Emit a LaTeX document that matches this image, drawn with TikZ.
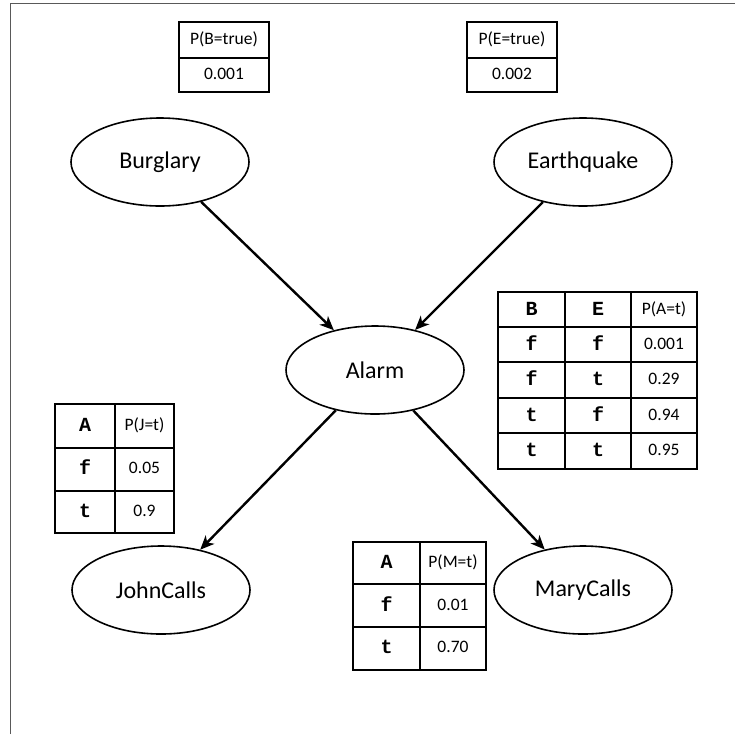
\documentclass[tikz,border=0pt]{standalone}
\usepackage{fontspec}
\setmainfont{Carlito}
\newfontfamily\cptmono{Liberation Mono}
\usetikzlibrary{shapes.geometric,arrows.meta}

\tikzset{
  var/.style={ellipse,draw,line width=1.6pt,minimum width=178pt,minimum height=88pt,
    inner sep=0pt,font=\fontsize{24}{28}\selectfont},
  dep/.style={-{Stealth[length=14pt,width=12pt,inset=4pt]},line width=2.4pt},
  cpt/.style={line width=1.6pt},
  prob/.style={inner sep=0pt,text height=12pt,text depth=3pt,font=\fontsize{17.5}{20}\selectfont},
  val/.style={inner sep=0pt,text height=11pt,text depth=0pt,font=\cptmono\bfseries\fontsize{20}{22}\selectfont},
}

\begin{document}
\begin{tikzpicture}[x=1pt,y=-1pt]
  \useasboundingbox (0,0) rectangle (735,734);
  \draw[line width=0.8pt,black!65] (10.5,734) -- (10.5,3.5) -- (735,3.5);

  % network
  \node[var] (burglary) at (160,162) {Burglary};
  \node[var] (earthquake) at (583,162) {Earthquake};
  \node[var] (alarm) at (375,370) {Alarm};
  \node[var] (john) at (161,590) {JohnCalls};
  \node[var] (mary) at (583,590) {MaryCalls};
  \draw[dep] (burglary) -- (alarm);
  \draw[dep] (earthquake) -- (alarm);
  \draw[dep] (alarm) -- (john);
  \draw[dep] (alarm) -- (mary);

  % priors
  \draw[cpt] (179,22) rectangle (269,92) (179,58) -- (269,58);
  \node[prob] (pb) at (224,40) {P(B=true)};
  \node[prob] (pbv) at (224,75) {0.001};
  \draw[cpt] (467,22) rectangle (557,92) (467,58) -- (557,58);
  \node[prob] (pe) at (512,40) {P(E=true)};
  \node[prob] (pev) at (512,75) {0.002};

  % alarm table
  \draw[cpt] (498,292) rectangle (697,469);
  \foreach \y in {327,362,398,433} \draw[cpt] (498,\y) -- (697,\y);
  \foreach \x in {565,631} \draw[cpt] (\x,292) -- (\x,469);
  \node[val] (ab) at (531.5,309.5) {B};
  \node[val] (ae) at (598,309.5) {E};
  \node[prob] (pa) at (664,309.5) {P(A=t)};
  \foreach \b/\e/\p [count=\i] in {f/f/0.001,f/t/0.29,t/f/0.94,t/t/0.95}{
    \node[val] (ab\i) at (531.5,309.5+35.4*\i) {\b};
    \node[val] (ae\i) at (598,309.5+35.4*\i) {\e};
    \node[prob] (pa\i) at (664,309.5+35.4*\i) {\p};
  }

  % john table
  \draw[cpt] (55,404) rectangle (174,533);
  \foreach \y in {448,491} \draw[cpt] (55,\y) -- (174,\y);
  \draw[cpt] (115,404) -- (115,533);
  \node[val] (ja) at (85,426) {A};
  \node[prob] (pj) at (144.5,426) {P(J=t)};
  \foreach \a/\p [count=\i] in {f/0.05,t/0.9}{
    \node[val] (ja\i) at (85,426+43*\i) {\a};
    \node[prob] (pj\i) at (144.5,426+43*\i) {\p};
  }

  % mary table
  \draw[cpt] (353,542) rectangle (486,670);
  \foreach \y in {584,627} \draw[cpt] (353,\y) -- (486,\y);
  \draw[cpt] (420,542) -- (420,670);
  \node[val] (ma) at (386.5,563) {A};
  \node[prob] (pm) at (453,563) {P(M=t)};
  \foreach \a/\p [count=\i] in {f/0.01,t/0.70}{
    \node[val] (ma\i) at (386.5,563+42.7*\i) {\a};
    \node[prob] (pm\i) at (453,563+42.7*\i) {\p};
  }
\end{tikzpicture}
\end{document}
